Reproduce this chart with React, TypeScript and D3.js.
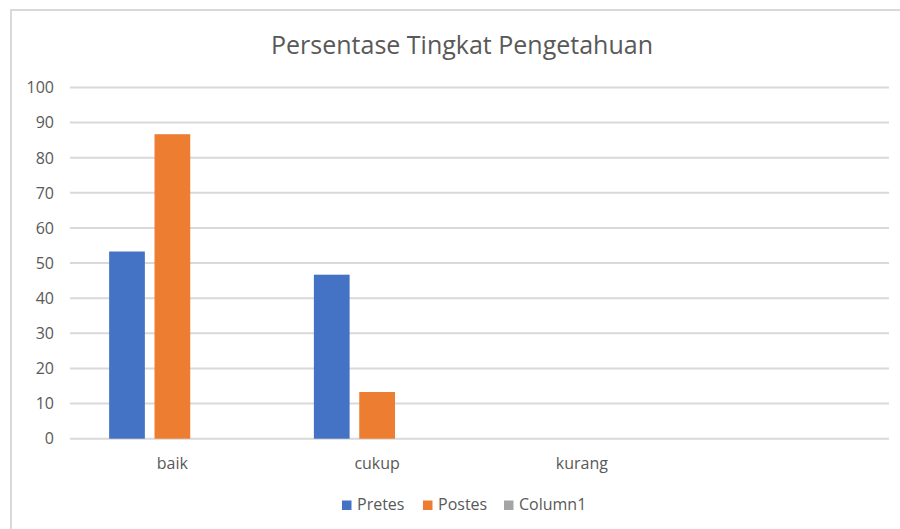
import React from 'react';
import * as d3 from 'd3';

const categories = ['baik', 'cukup', 'kurang', ''];
const seriesNames = ['Pretes', 'Postes', 'Column1'];
const pretes = [53.3, 46.7, 0, 0];
const postes = [86.7, 13.3, 0, 0];
const column1: (number | null)[] = [null, null, null, null];
const yTicks = [0, 10, 20, 30, 40, 50, 60, 70, 80, 90, 100];

const COLORS = ['#4472C4', '#ED7D31', '#A5A5A5'];
const W = 900;
const H = 529;
const TEXT = '#595959';
const GRID = '#d9d9d9';
const FONT = "'Open Sans', sans-serif";

const App: React.FC = () => {
  const left = 70;
  const right = 889;
  const top = 87.5;
  const bottom = 438.7;

  const x = d3.scaleBand<string>()
    .domain(categories.map((c, i) => String(i)))
    .range([left, right])
    .padding(0);

  const y = d3.scaleLinear().domain([0, 100]).range([bottom, top]);

  // excel style: gap width 219%, overlap -27%
  const bw = x.bandwidth();
  const barW = bw / 5.73;
  const offset = (i: number) => 1.095 * barW + i * 1.27 * barW;

  const series = [pretes, postes, column1];

  return (
    <div style={{ position: 'absolute', left: 0, top: 0 }}>
      <svg width={W} height={H} style={{ display: 'block', background: '#fff' }}>
        <rect x={11} y={10} width={W + 10} height={H + 10} fill="#fff" stroke={GRID} strokeWidth={2} />
        <text x={462} y={54} textAnchor="middle" fontFamily={FONT} fontSize={25} fill={TEXT}>
          Persentase Tingkat Pengetahuan
        </text>

        {yTicks.map(t => (
          <g key={t}>
            <line x1={left} x2={right} y1={y(t)} y2={y(t)} stroke={GRID} strokeWidth={2} />
            <text
              x={54}
              y={y(t)}
              dy="0.36em"
              textAnchor="end"
              fontFamily={FONT}
              fontSize={16}
              fill={TEXT}
            >
              {t}
            </text>
          </g>
        ))}

        {series.map((vals, si) =>
          vals.map((v, ci) =>
            v == null ? null : (
              <rect
                key={`${si}-${ci}`}
                x={(x(String(ci)) || 0) + offset(si)}
                y={y(v)}
                width={barW}
                height={bottom - y(v)}
                fill={COLORS[si]}
              />
            )
          )
        )}

        {categories.map((c, i) => (
          <text
            key={i}
            x={(x(String(i)) || 0) + bw / 2}
            y={469}
            textAnchor="middle"
            fontFamily={FONT}
            fontSize={16}
            fill={TEXT}
          >
            {c}
          </text>
        ))}

        {seriesNames.map((n, i) => {
          const lx = [342, 423, 504][i];
          return (
            <g key={n}>
              <rect x={lx} y={500.5} width={9.5} height={9.5} fill={COLORS[i]} />
              <text x={lx + 15} y={509.5} fontFamily={FONT} fontSize={16} fill={TEXT}>
                {n}
              </text>
            </g>
          );
        })}
      </svg>
    </div>
  );
};

export default App;
